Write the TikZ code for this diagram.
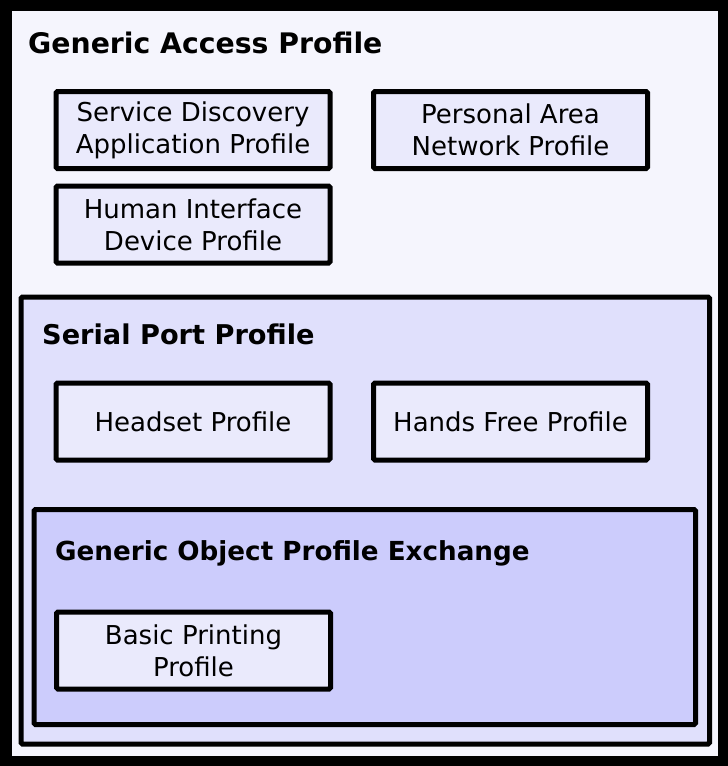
\documentclass[tikz,border=0pt]{standalone}
\usepackage{fontspec}
\setmainfont{DejaVu Sans}
\usetikzlibrary{backgrounds}
\definecolor{gapfill}{RGB}{245,245,253}
\definecolor{sppfill}{RGB}{224,224,252}
\definecolor{goepfill}{RGB}{204,204,252}
\definecolor{boxfill}{RGB}{234,234,252}

\begin{document}
\begin{tikzpicture}[x=1pt,y=-1pt,
	frame/.style = {draw, line width=5pt, rounded corners=1.5pt, inner sep=0pt},
	profile/.style = {frame, fill=boxfill, minimum width=274pt, minimum height=77pt, align=center, font=\fontsize{26}{32}\selectfont},
	title/.style = {anchor=base west, inner sep=0pt, font=\bfseries}]
					\fill[black] (0,0) rectangle (728,766);
					\useasboundingbox (0,0) rectangle (728,766);
					\node[fill=gapfill, inner sep=0pt, minimum width=706pt, minimum height=745pt] (GAP) at (365,383.5) {};
					\node[frame, fill=sppfill, minimum width=688.5pt, minimum height=447pt] (SPP) at (365.25,520.5) {};
					\node[frame, fill=goepfill, minimum width=661.5pt, minimum height=215pt] (GOEP) at (364.75,617) {};
					\node[title] (GAPtitle) at (28,53) {\fontsize{28.3}{34}\selectfont Generic Access Profile};
					\node[title] (SPPtitle) at (42,344) {\fontsize{27.2}{33}\selectfont Serial Port Profile};
					\node[title] (GOEPtitle) at (55,560) {\fontsize{26.2}{32}\selectfont Generic Object Profile Exchange};
					\begin{scope}[every node/.style={profile}]
						\node (SDAP) at (193,130) {Service Discovery\\Application Profile};
						\node (PAN) at (510.5,130) {Personal Area\\Network Profile};
						\node (HID) at (193,224.5) {Human Interface\\Device Profile};
						\node (HSP) at (193,421.5) {Headset Profile};
						\node (HFP) at (510.5,421.5) {Hands Free Profile};
						\node (BPP) at (193.5,650.5) {Basic Printing\\Profile};
					\end{scope}
				\end{tikzpicture}
\end{document}
